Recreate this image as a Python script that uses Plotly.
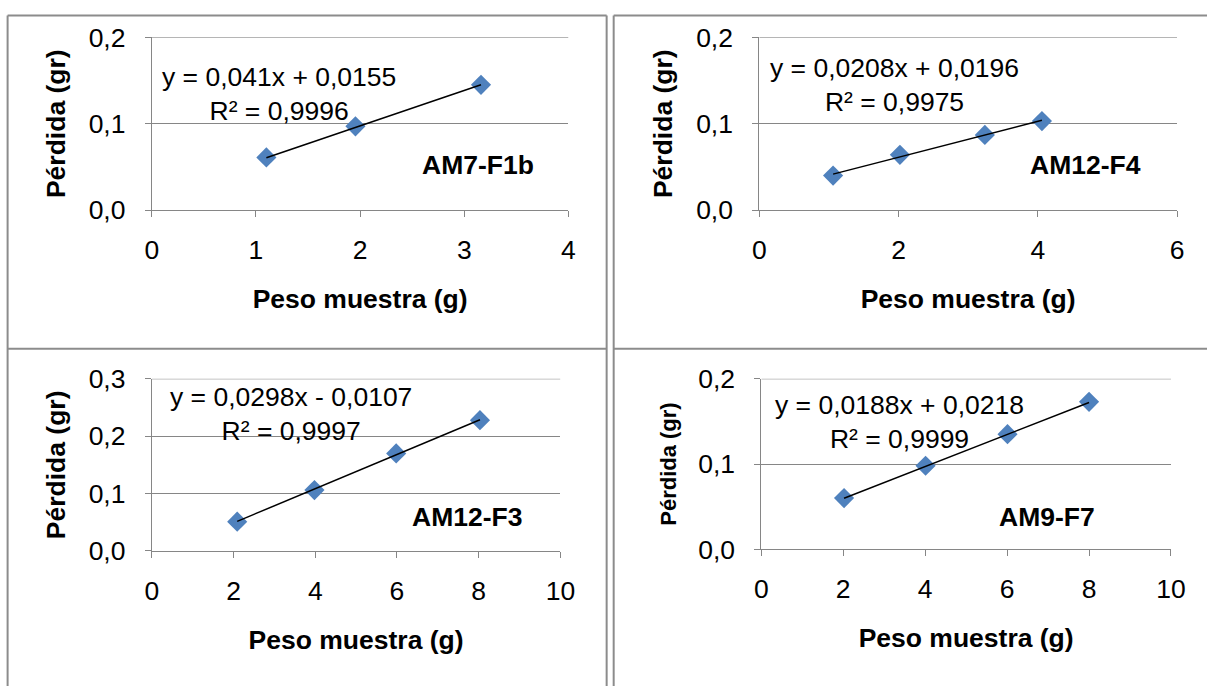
import plotly.graph_objects as go

# Sample weight (g) vs. loss (gr) for four specimens
peso_am7_f1b = [1.10, 1.955, 3.16]
perdida_am7_f1b = [0.061, 0.097, 0.145]

peso_am12_f4 = [1.06, 2.02, 3.24, 4.06]
perdida_am12_f4 = [0.040, 0.064, 0.087, 0.103]

peso_am12_f3 = [2.09, 3.98, 5.98, 8.03]
perdida_am12_f3 = [0.051, 0.106, 0.170, 0.228]

peso_am9_f7 = [2.02, 4.01, 6.01, 8.00]
perdida_am9_f7 = [0.060, 0.098, 0.135, 0.173]

# Linear trendline coefficients and fit quality
pendientes = [0.041, 0.0208, 0.0298, 0.0188]
ordenadas = [0.0155, 0.0196, -0.0107, 0.0218]
r2 = [0.9996, 0.9975, 0.9997, 0.9999]

muestras = ["AM7-F1b", "AM12-F4", "AM12-F3", "AM9-F7"]
x_max = [4, 6, 10, 10]
x_dtick = [1, 2, 2, 2]
y_max = [0.2, 0.2, 0.3, 0.2]

# Sheet layout: positions are given on a 1207x686 sheet grid and mapped
# into page pixels (the page body keeps its default 8px margin).
SHEET_W, SHEET_H = 1207, 686
SX, SY, OY = 0.978, 0.955, 8.4
BODY = 8
W = round(SHEET_W / SX - BODY)
H = round((SHEET_H - OY) / SY - BODY)

FONT = "Liberation Sans, Arial, sans-serif"
AXIS_GREY = "#868686"
BORDER_GREY = "#8c8c8c"
BLUE = "#4F81BD"


def px_x(v):
    """sheet x -> paper fraction"""
    return min(max((v / SX - BODY) / W, 0.0005), 1)


def px_y(v):
    """sheet y -> paper fraction"""
    return 1 - min(max(((v - OY) / SY - BODY) / H, 0.0008), 1)


def fmt(v, nd):
    return f"{abs(v):.{nd}f}".rstrip("0").replace(".", ",")


# plot-area boxes on the sheet: left, right, top, bottom
boxes = [
    (152, 567, 38.3, 210.7),
    (757, 1173, 38.3, 210.7),
    (152, 559, 379, 550.7),
    (759, 1167, 379, 549),
]
# text anchors on the sheet: trendline equation block, sample label
eq_pos = [(279, 95), (892, 86), (291, 414), (897, 422)]
lab_pos = [(476.5, 166), (1082, 166), (466, 517), (1044, 517)]
ytitle_size = [26.5, 26.5, 26.5, 22]
TXT = 26.5

series = [
    (peso_am7_f1b, perdida_am7_f1b),
    (peso_am12_f4, perdida_am12_f4),
    (peso_am12_f3, perdida_am12_f3),
    (peso_am9_f7, perdida_am9_f7),
]

fig = go.Figure()
annotations = []
shapes = []
layout_axes = {}

for i, (xs, ys) in enumerate(series):
    n = "" if i == 0 else str(i + 1)
    xa, ya = f"x{n}", f"y{n}"

    fig.add_trace(go.Scatter(
        x=xs, y=ys, mode="markers", xaxis=xa, yaxis=ya,
        marker=dict(symbol="diamond", size=15.5, color=BLUE, line=dict(width=0)),
        showlegend=False,
    ))
    x0, x1 = min(xs), max(xs)
    fig.add_trace(go.Scatter(
        x=[x0, x1],
        y=[pendientes[i] * x0 + ordenadas[i], pendientes[i] * x1 + ordenadas[i]],
        mode="lines", xaxis=xa, yaxis=ya,
        line=dict(color="black", width=1.5), showlegend=False,
    ))

    l, r, t, b = boxes[i]
    layout_axes[f"xaxis{n}"] = dict(
        domain=[px_x(l), px_x(r)], anchor=ya, range=[0, x_max[i]],
        dtick=x_dtick[i], tick0=0, showgrid=False, zeroline=False,
        showline=True, linecolor=AXIS_GREY, linewidth=1,
        ticks="outside", ticklen=6, tickcolor=AXIS_GREY, tickwidth=1,
        ticklabelstandoff=10,
        tickfont=dict(family=FONT, size=TXT, color="black"),
        title=dict(text="<b>Peso muestra (g)</b>", standoff=25,
                   font=dict(family=FONT, size=TXT, color="black")),
    )
    layout_axes[f"yaxis{n}"] = dict(
        domain=[px_y(b), px_y(t)], anchor=xa, range=[0, y_max[i]],
        dtick=0.1, tick0=0, tickformat=".1f",
        showgrid=True, gridcolor=AXIS_GREY, gridwidth=1, zeroline=False,
        showline=True, linecolor=AXIS_GREY, linewidth=1,
        ticks="outside", ticklen=6, tickcolor=AXIS_GREY, tickwidth=1,
        ticklabelstandoff=14,
        tickfont=dict(family=FONT, size=TXT, color="black"),
        title=dict(text="<b>Pérdida (gr)</b>", standoff=15,
                   font=dict(family=FONT, size=ytitle_size[i], color="black")),
    )
    # top gridline (plotly skips gridlines on the plot edge)
    shapes.append(dict(
        type="line", xref=xa, yref=ya, x0=0, x1=x_max[i],
        y0=y_max[i], y1=y_max[i], layer="below",
        line=dict(color=AXIS_GREY, width=1),
    ))

    signo = "+" if ordenadas[i] >= 0 else "-"
    eq = f"y = {fmt(pendientes[i], 4)}x {signo} {fmt(ordenadas[i], 4)}"
    r2_txt = f"R² = {fmt(r2[i], 4)}"
    annotations.append(dict(
        x=px_x(eq_pos[i][0]), y=px_y(eq_pos[i][1]), xref="paper", yref="paper",
        text=f"{eq}<br>{r2_txt}", align="center", showarrow=False,
        xanchor="center", yanchor="middle",
        font=dict(family=FONT, size=TXT, color="black"),
    ))
    annotations.append(dict(
        x=px_x(lab_pos[i][0]), y=px_y(lab_pos[i][1]), xref="paper", yref="paper",
        text=f"<b>{muestras[i]}</b>", showarrow=False,
        xanchor="center", yanchor="middle",
        font=dict(family=FONT, size=TXT, color="black"),
    ))

# table cell borders around the four charts (sheet coordinates)
border_segments = [
    (7.5, 8.5, 605, 8.5), (612, 8.5, SHEET_W, 8.5),
    (7.5, 8.5, 7.5, SHEET_H), (605, 8.5, 605, SHEET_H), (612, 8.5, 612, SHEET_H),
    (7.5, 349, 605, 349), (612, 349, SHEET_W, 349),
]
shapes += [
    dict(type="line", xref="paper", yref="paper",
         x0=px_x(a), y0=px_y(b), x1=px_x(c), y1=px_y(d),
         line=dict(color=BORDER_GREY, width=2))
    for a, b, c, d in border_segments
]

fig.update_layout(
    width=W, height=H, margin=dict(l=0, r=0, t=0, b=0),
    paper_bgcolor="white", plot_bgcolor="white",
    separators=",.",
    font=dict(family=FONT, color="black"),
    annotations=annotations, shapes=shapes,
    **layout_axes,
)

fig.write_html("out.html")
